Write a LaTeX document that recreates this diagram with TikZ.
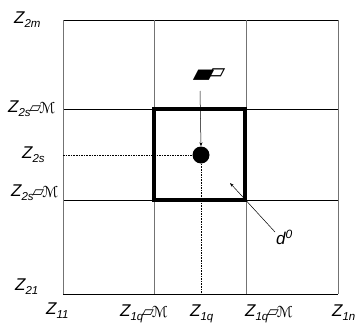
\documentclass[tikz,border=0pt]{standalone}
\usepackage{fontspec}
\setmainfont{Liberation Sans}
\newfontfamily\djv{DejaVu Sans}
\usetikzlibrary{arrows.meta}
\tikzset{
  lbl/.style={anchor=base west, inner sep=0pt, font=\fontsize{17}{17}\selectfont\itshape},
  vgrid/.style={draw=black!55, line width=0.9pt},
  hgrid/.style={draw=black, line width=0.7pt},
  dashline/.style={draw=black, line width=0.7pt, dash pattern=on 1.6pt off 1pt},
  thickbox/.style={draw=black, line width=3.6pt},
  para/.style={inner sep=0pt, font=\djv\fontsize{28}{28}\selectfont}
}
\newcommand{\sub}[1]{\raisebox{-4pt}{\fontsize{11.5}{11.5}\selectfont #1}}
\newcommand{\garb}{{\djv\upshape\fontsize{15}{15}\selectfont\hspace{-1pt}▱\hspace{-2pt}\raisebox{-1pt}{ℳ}}}
\begin{document}
\begin{tikzpicture}[x=1pt,y=-1pt]
\useasboundingbox (0,0) rectangle (357,327);
% grid
\draw[hgrid] (63,20) -- (338,20);
\draw[hgrid] (63,109) -- (338,109);
\draw[hgrid] (63,200) -- (338,200);
\draw[hgrid] (63,294) -- (338,294);
\draw[vgrid] (63,20) -- (63,294);
\draw[vgrid] (154,20) -- (154,294);
\draw[vgrid] (246,20) -- (246,294);
\draw[vgrid] (338,20) -- (338,294);
% thick square
\draw[thickbox] (154,109) rectangle (245,200);
% dot and dashed lines
\node (dot) [circle, fill=black, minimum size=17pt, inner sep=0pt] at (201,155) {};
\coordinate (lft) at (63,155);
\coordinate (bot) at (201,294);
\draw[dashline] (lft) -- (dot);
\draw[dashline] (dot) -- (bot);
% symbol above
\node (sym) [para] at (209,76) {▰\hspace{-6pt}\raisebox{4pt}{\fontsize{22}{22}\selectfont ▱}};
\coordinate (arrs) at (200,91);
\draw[-{Stealth[length=4pt,width=3pt]}, line width=0.5pt] (arrs) -- (dot.north);
% d0
\node (d0) [lbl] at (276,244) {d\raisebox{6pt}{\fontsize{12}{12}\selectfont 0}};
\coordinate (dtip) at (230,183);
\coordinate (dstart) at (275,232);
\draw[-{Stealth[length=4pt,width=3pt]}, line width=0.5pt] (dstart) -- (dtip);
% labels left
\node (z2m) [lbl] at (14,23) {Z\sub{2m}};
\node (z2sp) [lbl] at (8,112) {Z\sub{2s}\garb};
\node (z2s) [lbl] at (22,158) {Z\sub{2s}};
\node (z2sm) [lbl] at (11,196) {Z\sub{2s}\garb};
\node (z21) [lbl] at (15,290) {Z\sub{21}};
% labels bottom
\node (z11) [lbl] at (46,314) {Z\sub{11}};
\node (z1qm) [lbl] at (120,316) {Z\sub{1q}\garb};
\node (z1q) [lbl] at (190,316) {Z\sub{1q}};
\node (z1qp) [lbl] at (245,316) {Z\sub{1q}\garb};
\node (z1n) [lbl] at (332,316) {Z\sub{1n}};
\end{tikzpicture}
\end{document}
